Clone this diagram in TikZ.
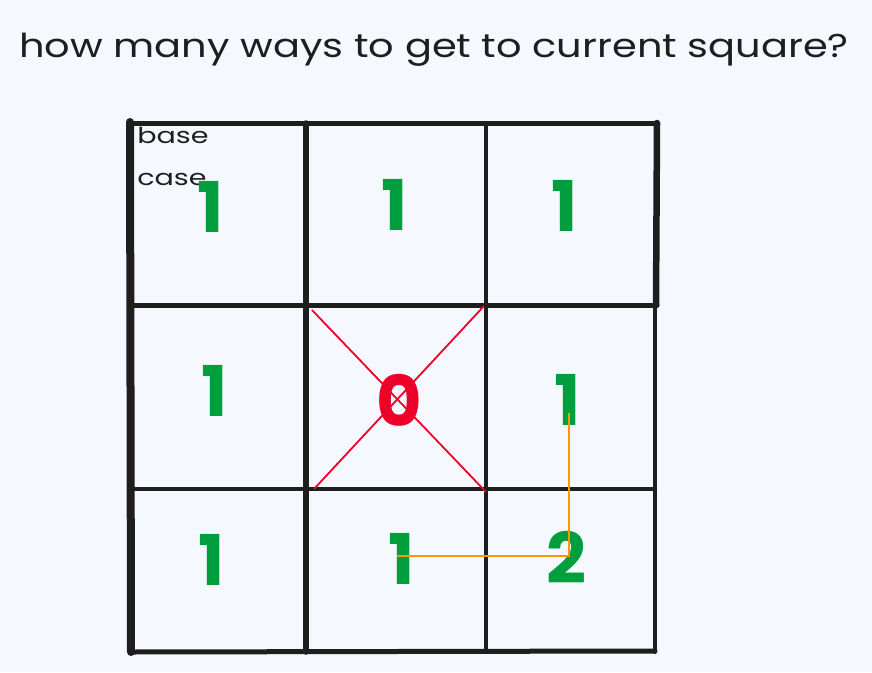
\documentclass[tikz,border=0pt]{standalone}
\usepackage{fontspec}
\setmainfont{Poppins}
\definecolor{bgc}{RGB}{245,249,255}
\definecolor{ink}{RGB}{30,30,30}
\definecolor{gnum}{RGB}{0,158,60}
\definecolor{rnum}{RGB}{238,0,40}
\definecolor{opath}{RGB}{255,152,0}
\begin{document}
\begin{tikzpicture}[x=1pt,y=-1pt,
  gridline/.style={draw=ink,line cap=round,line join=round},
  numg/.style={text=gnum,font=\fontsize{70}{70}\selectfont\bfseries,inner sep=0pt},
  numr/.style={text=rnum,font=\fontsize{70}{70}\selectfont\bfseries,inner sep=0pt},
  lbl/.style={text=ink,font=\fontsize{22}{22}\selectfont,inner sep=0pt,anchor=base west,xscale=1.3},
  ttl/.style={text=ink,font=\fontsize{33}{33}\selectfont,inner sep=0pt,anchor=base,xscale=1.21}]
\fill[bgc] (0,0) rectangle (872,672);
\useasboundingbox (0,0) rectangle (872,672);
% title
\node[ttl] (title) at (434,57) {how many ways to get to current square?};
% grid
\draw[gridline,line width=8pt] (130,122) -- (131,652);
\draw[gridline,line width=5pt] (130,123) -- (657,123);
\draw[gridline,line width=6.5pt] (657,123) -- (656,305);
\draw[gridline,line width=4pt] (655,305) -- (655,652);
\draw[gridline,line width=5pt] (130,652) -- (655,651);
\draw[gridline,line width=5pt] (130,305) -- (657,305);
\draw[gridline,line width=4pt] (130,489) -- (655,489);
\draw[gridline,line width=5.5pt] (306,123) -- (306,652);
\draw[gridline,line width=4pt] (486,123) -- (486,652);
% red cross
\draw[rnum,line width=1.8pt] (312,310) -- (486,492);
\draw[rnum,line width=1.8pt] (484,306) -- (314,489);
% labels
\node[lbl] (base) at (137,143) {base};
\node[lbl] (case) at (137,185) {case};
% numbers
\node[numg] (n11) at (211,207) {1};
\node[numg] (n12) at (395,205) {1};
\node[numg] (n13) at (565,206) {1};
\node[numg] (n21) at (215,391) {1};
\node[numr] (n22) at (399,400) {0};
\node[numg] (n23) at (568,400) {1};
\node[numg] (n31) at (212,560) {1};
\node[numg] (n32) at (402,559) {1};
\node[numg] (n33) at (566,557) {2};
% orange path
\coordinate (pa) at (569,413);
\coordinate (pc) at (397,556);
\draw[opath,line width=2pt] (pa) |- (pc);
\end{tikzpicture}
\end{document}
